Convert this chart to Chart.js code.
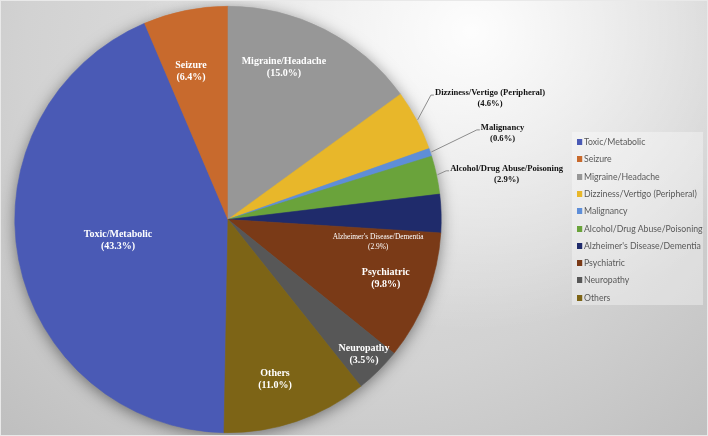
<!DOCTYPE html>
<html lang="en">
<head>
  <meta charset="UTF-8">
  <title>Causes pie chart</title>
  <script src="https://cdn.jsdelivr.net/npm/chart.js"></script>
  <style>
    body {
      margin: 0;
      background: #fff;
    }

    /* gray panel with soft light spot near the top */
    .panel {
      position: relative;
      width: 708px;
      height: 436px;
      overflow: hidden;
      background:
        radial-gradient(ellipse 330px 300px at 470px 30px, rgba(255,255,255,0.95), rgba(255,255,255,0) 100%),
        radial-gradient(ellipse 560px 520px at 360px 60px, #e4e4e4 0%, #d2d2d2 60%, #bdbdbd 100%);
      box-sizing: border-box;
      border: 1px solid #e9e9e9;
    }

    canvas {
      position: absolute;
      left: 0;
      top: 0;
    }

    /* legend box on the right */
    .legend {
      position: absolute;
      left: 571px;
      top: 131px;
      width: 131px;
      height: 173px;
      background: rgba(255, 255, 255, 0.35);
      font-family: Lato, "Open Sans", sans-serif;
      font-size: 10px;
      color: #595959;
    }

    .legend div {
      position: absolute;
      left: 5px;
      white-space: nowrap;
      line-height: 12px;
      transform: scaleX(0.87);
      transform-origin: left center;
    }

    .legend span {
      display: inline-block;
      width: 6px;
      height: 6px;
      margin-right: 2px;
      vertical-align: 0px;
    }
  </style>
</head>
<body>
  <div class="panel">
    <canvas id="pie" width="708" height="436"></canvas>
    <div class="legend" id="legend"></div>
  </div>

  <script>
    const categories = [
      'Toxic/Metabolic',
      'Seizure',
      'Migraine/Headache',
      'Dizziness/Vertigo (Peripheral)',
      'Malignancy',
      'Alcohol/Drug Abuse/Poisoning',
      "Alzheimer's Disease/Dementia",
      'Psychiatric',
      'Neuropathy',
      'Others'
    ];
    const percents = [43.3, 6.4, 15.0, 4.6, 0.6, 2.9, 2.9, 9.8, 3.5, 11.0];
    const colors = [
      '#4a5ab5', '#c86a2d', '#979797', '#e8b72a', '#5e8ed8',
      '#6aa33b', '#1f2b6b', '#7a3a17', '#575757', '#7d6416'
    ];

    // label placement: [angle offset from slice middle (deg), distance as fraction of radius]
    const labelPlace = [
      [0.4, 0.525], [-2.5, 0.717], [-6.8, 0.759], [2.9, 1.354], [0.9, 1.35],
      [2.8, 1.324], [10.1, 0.712], [-0.9, 0.789], [-0.3, 0.90], [2.3, 0.78]
    ];
    const outside = [false, false, false, true, true, true, false, false, false, false];

    // legend rows from the same arrays
    const legendEl = document.getElementById('legend');
    categories.forEach(function (name, i) {
      const row = document.createElement('div');
      row.style.top = (3 + i * 17.3) + 'px';
      row.innerHTML = '<span style="background:' + colors[i] + '"></span>' + name;
      legendEl.appendChild(row);
    });

    // soft shadow behind the pie
    const pieShadow = {
      id: 'pieShadow',
      beforeDatasetsDraw(chart) {
        const arc = chart.getDatasetMeta(0).data[0];
        if (!arc) return;
        const ctx = chart.ctx;
        ctx.save();
        ctx.shadowColor = 'rgba(0,0,0,0.5)';
        ctx.shadowBlur = 16;
        ctx.shadowOffsetX = 0;
        ctx.shadowOffsetY = 3;
        ctx.fillStyle = '#888';
        ctx.beginPath();
        ctx.arc(arc.x, arc.y, arc.outerRadius - 1, 0, Math.PI * 2);
        ctx.fill();
        ctx.restore();
      }
    };

    // slice labels, white inside the pie, black with leader lines outside
    const sliceLabels = {
      id: 'sliceLabels',
      afterDatasetsDraw(chart) {
        const ctx = chart.ctx;
        const arcs = chart.getDatasetMeta(0).data;
        arcs.forEach(function (arc, i) {
          const mid = (arc.startAngle + arc.endAngle) / 2;
          const ang = mid + labelPlace[i][0] * Math.PI / 180;
          const r = arc.outerRadius * labelPlace[i][1];
          const x = arc.x + Math.cos(ang) * r;
          const y = arc.y + Math.sin(ang) * r;
          const lines = [categories[i], '(' + percents[i].toFixed(1) + '%)'];

          ctx.save();
          ctx.textAlign = 'center';
          ctx.textBaseline = 'middle';
          let size = 10, gap = 12;
          if (outside[i]) { size = 8.6; gap = 10.5; }
          if (i === 6) { size = 7.4; gap = 9.5; }
          ctx.font = (i === 6 ? '' : 'bold ') + size + 'px "Liberation Serif", serif';
          ctx.fillStyle = outside[i] ? '#111' : '#fff';

          if (outside[i]) {
            const w = ctx.measureText(lines[0]).width;
            const left = x - w / 2;
            const y1 = y - gap / 2;
            const ex = arc.x + Math.cos(mid) * (arc.outerRadius + 1);
            const ey = arc.y + Math.sin(mid) * (arc.outerRadius + 1);
            ctx.strokeStyle = '#8c8c8c';
            ctx.lineWidth = 1;
            ctx.beginPath();
            ctx.moveTo(ex, ey);
            ctx.lineTo(left - 4, y1 + 2);
            ctx.lineTo(left - 1, y1 + 2);
            ctx.stroke();
          }
          ctx.fillText(lines[0], x, y - gap / 2);
          ctx.fillText(lines[1], x, y + gap / 2);
          ctx.restore();
        });
      }
    };

    new Chart(document.getElementById('pie'), {
      type: 'pie',
      data: {
        labels: categories,
        datasets: [{
          data: percents,
          backgroundColor: colors,
          borderColor: colors,
          borderWidth: 0.6
        }]
      },
      options: {
        responsive: false,
        animation: false,
        rotation: -(percents[0] + percents[1]) * 3.6,
        layout: {
          padding: { left: 13, right: 267, top: 5, bottom: 4 }
        },
        plugins: {
          legend: { display: false },
          tooltip: { enabled: false }
        }
      },
      plugins: [pieShadow, sliceLabels]
    });
  </script>
</body>
</html>
